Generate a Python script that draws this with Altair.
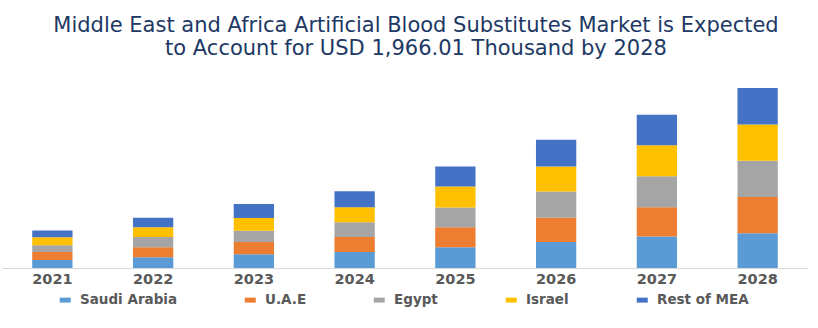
import altair as alt
import pandas as pd

years = ["2021", "2022", "2023", "2024", "2025", "2026", "2027", "2028"]
series = ["Saudi Arabia", "U.A.E", "Egypt", "Israel", "Rest of MEA"]
saudi_arabia = [87, 117, 150, 175, 226, 284, 343, 379]
uae = [87, 109, 134, 164, 218, 266, 320, 397]
egypt = [76, 112, 124, 161, 218, 287, 339, 397]
israel = [87, 106, 138, 164, 229, 273, 339, 396]
rest_of_mea = [73, 106, 153, 175, 218, 292, 335, 397]
colors = ["#5B9BD5", "#ED7D31", "#A5A5A5", "#FFC000", "#4472C4"]

values = [saudi_arabia, uae, egypt, israel, rest_of_mea]
rows = []
for si, (name, vals) in enumerate(zip(series, values)):
    for y, v in zip(years, vals):
        rows.append({"Year": y, "Region": name, "Value": v, "idx": si})
df = pd.DataFrame(rows)

chart = alt.Chart(df).mark_bar().encode(
    x=alt.X("Year:N", sort=years,
            scale=alt.Scale(paddingInner=0.6, paddingOuter=0.3),
            axis=alt.Axis(title=None, labelAngle=0, ticks=False, grid=False,
                          labelFont="DejaVu Sans", labelFontWeight="bold",
                          labelFontSize=14.5, labelColor="#595959", labelPadding=4,
                          domainColor="#D9D9D9", domainWidth=1)),
    y=alt.Y("Value:Q", stack="zero", scale=alt.Scale(domain=[0, 2000], nice=False),
            axis=None),
    color=alt.Color("Region:N", sort=series,
                    scale=alt.Scale(domain=series, range=colors),
                    legend=alt.Legend(title=None, orient="none", direction="horizontal",
                                      columns=5, legendX=56.5, legendY=208,
                                      symbolType="M-1,-0.45H1V0.45H-1Z", symbolSize=121,
                                      symbolStrokeWidth=0, labelOffset=8,
                                      columnPadding=66, padding=0,
                                      labelFont="DejaVu Sans", labelFontWeight="bold",
                                      labelFontSize=13.5, labelColor="#595959")),
    order=alt.Order("idx:Q", sort="ascending"),
).properties(
    width=806, height=183,
    padding={"left": 2, "top": 85, "right": 10, "bottom": 60},
    autosize=alt.AutoSizeParams(type="none"),
    title=alt.Title(["Middle East and Africa Artificial Blood Substitutes Market is Expected",
                     "to Account for USD 1,966.01 Thousand by 2028"],
                    font="DejaVu Sans", fontSize=21, fontWeight="normal", color="#203864",
                    anchor="middle", offset=26, lineHeight=23, dx=11),
).configure(background="white").configure_view(stroke=None)

chart.save("out.html", embed_options={"renderer": "svg", "actions": False})
